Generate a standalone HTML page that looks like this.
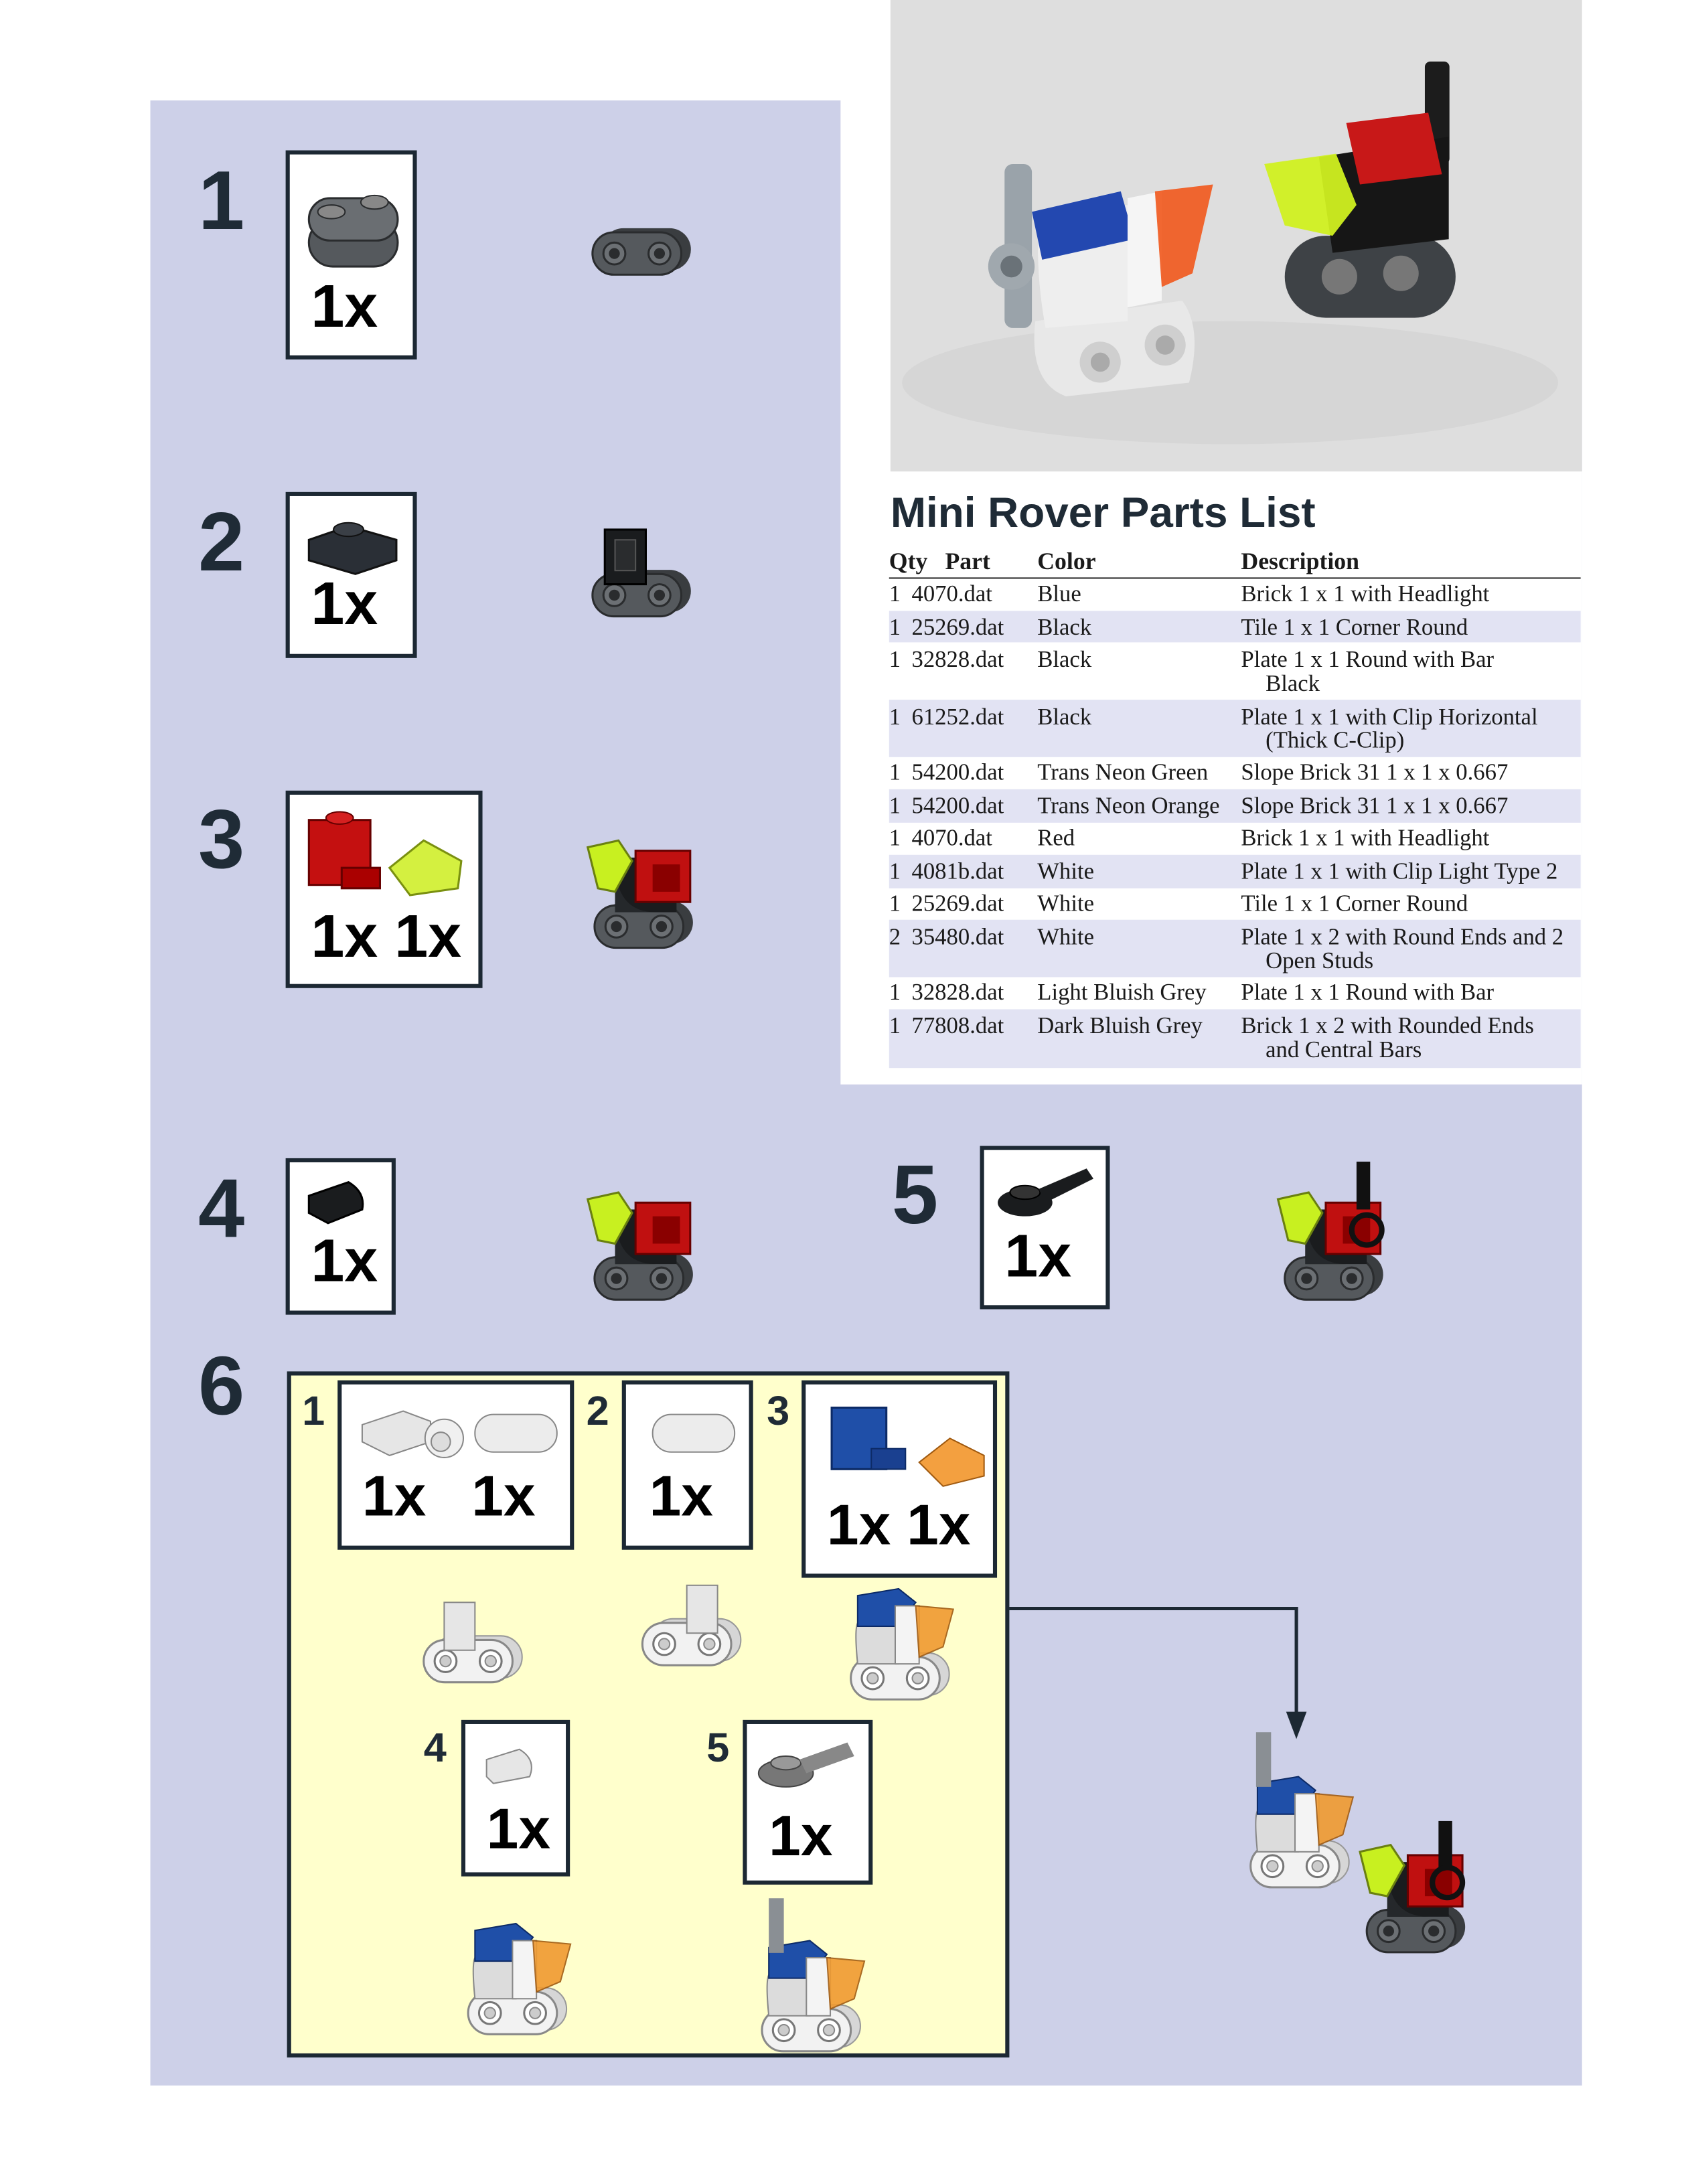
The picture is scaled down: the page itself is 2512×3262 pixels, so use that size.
<!DOCTYPE html>
<html><head><meta charset="utf-8">
<style>
html,body{margin:0;padding:0;background:#fff;}
svg{display:block;}
.num{font-family:"Liberation Sans",sans-serif;font-weight:bold;fill:#1f2b36;}
.qty{font-family:"Liberation Sans",sans-serif;font-weight:bold;fill:#000;}
.t{font-family:"Liberation Serif",serif;font-size:34px;fill:#1a1a1a;}
.h{font-family:"Liberation Serif",serif;font-size:35px;font-weight:bold;fill:#1a1a1a;}
</style></head><body>
<svg width="2512" height="3262" viewBox="0 0 2512 3262" xmlns="http://www.w3.org/2000/svg">
<defs>
<g id="trackD">
 <rect x="14" y="-6" width="130" height="62" rx="31" fill="#3a3d40"/>
 <rect x="0" y="0" width="130" height="62" rx="31" fill="#55595d" stroke="#2a2c2e" stroke-width="3"/>
 <circle cx="32" cy="31" r="16" fill="#6c7074" stroke="#2a2c2e" stroke-width="3"/><circle cx="32" cy="31" r="8" fill="#2a2c2e"/>
 <circle cx="98" cy="31" r="16" fill="#6c7074" stroke="#2a2c2e" stroke-width="3"/><circle cx="98" cy="31" r="8" fill="#2a2c2e"/>
</g>
<g id="trackW">
 <rect x="14" y="-6" width="130" height="62" rx="31" fill="#d6d6d6" stroke="#999" stroke-width="2"/>
 <rect x="0" y="0" width="130" height="62" rx="31" fill="#f2f2f2" stroke="#888" stroke-width="3"/>
 <circle cx="32" cy="31" r="16" fill="#fff" stroke="#777" stroke-width="3"/><circle cx="32" cy="31" r="8" fill="#ccc" stroke="#888" stroke-width="2"/>
 <circle cx="98" cy="31" r="16" fill="#fff" stroke="#777" stroke-width="3"/><circle cx="98" cy="31" r="8" fill="#ccc" stroke="#888" stroke-width="2"/>
</g>
<g id="roverDark">
 <use href="#trackD" x="0" y="95"/>
 <rect x="30" y="25" width="90" height="80" fill="#1a1c1e"/>
 <path d="M30 30 Q30 105 90 105 L30 105Z" fill="#25282b"/>
 <rect x="60" y="15" width="80" height="75" fill="#c01010" stroke="#600" stroke-width="3"/>
 <rect x="85" y="35" width="40" height="40" fill="#8a0000"/>
 <path d="M-10 10 L35 0 L55 30 L30 75 L5 70Z" fill="#c8f020" stroke="#6a8010" stroke-width="3"/>
</g>
<g id="roverWhite">
 <use href="#trackW" x="0" y="100"/>
 <path d="M10 50 L70 50 L70 110 L10 110 Q5 60 10 50Z" fill="#dcdcdc" stroke="#888" stroke-width="2"/>
 <path d="M10 10 L70 0 L95 20 L70 55 L10 55Z" fill="#1f4fa8" stroke="#0c2a66" stroke-width="2"/>
 <rect x="65" y="25" width="35" height="85" fill="#f4f4f4" stroke="#888" stroke-width="2"/>
 <path d="M95 25 L150 30 L135 85 L100 100Z" fill="#f09a30" stroke="#a05a10" stroke-width="2" opacity="0.9"/>
</g>
</defs>
<g transform="scale(1.0206)">
<rect x="220" y="147" width="2095" height="2905" fill="#cdd0e8"/>
<rect x="1230" y="0" width="1085" height="1587" fill="#ffffff"/>
<rect x="1303" y="0" width="1012" height="690" fill="#dedede"/>
<ellipse cx="1800" cy="560" rx="480" ry="90" fill="#d6d6d6"/>
<rect x="1470" y="240" width="40" height="240" rx="12" fill="#9aa3aa"/>
<circle cx="1480" cy="390" r="34" fill="#a0a8ae"/><circle cx="1480" cy="390" r="16" fill="#6a7278"/>
<path d="M1515 470 L1730 440 Q1760 480 1740 560 L1560 580 Q1505 560 1515 470Z" fill="#e8e8e8"/>
<circle cx="1610" cy="530" r="30" fill="#cfcfcf"/><circle cx="1610" cy="530" r="14" fill="#aaa"/>
<circle cx="1705" cy="505" r="30" fill="#cfcfcf"/><circle cx="1705" cy="505" r="14" fill="#aaa"/>
<path d="M1520 320 L1650 300 L1650 470 L1530 480 Q1515 400 1520 320Z" fill="#eeeeee"/>
<path d="M1510 310 L1640 280 L1660 350 L1525 380Z" fill="#2348b0"/>
<path d="M1650 290 L1700 280 L1700 440 L1650 450Z" fill="#f5f5f5"/>
<path d="M1690 280 L1775 270 L1745 400 L1700 420Z" fill="#f05a20" opacity="0.92"/>
<rect x="2085" y="90" width="36" height="150" rx="8" fill="#1c1c1c"/>
<rect x="1880" y="345" width="250" height="120" rx="60" fill="#3e4246"/>
<circle cx="1960" cy="405" r="26" fill="#777"/><circle cx="2050" cy="400" r="26" fill="#777"/>
<path d="M1930 230 L2120 200 L2120 350 L1950 370Z" fill="#161616"/>
<path d="M1970 180 L2090 165 L2110 255 L1990 270Z" fill="#c81818"/>
<path d="M1850 240 L1955 225 L1985 300 L1950 345 L1880 330Z" fill="#d0f020" opacity="0.95"/>

<text x="1303" y="771" font-family="Liberation Sans,sans-serif" font-weight="bold" font-size="62" fill="#1f2b36" textLength="622" lengthAdjust="spacingAndGlyphs">Mini Rover Parts List</text>
<g fill="#e2e3f3">
<rect x="1301" y="894" width="1012" height="46"/>
<rect x="1301" y="1024" width="1012" height="84"/>
<rect x="1301" y="1155" width="1012" height="49"/>
<rect x="1301" y="1251" width="1012" height="49"/>
<rect x="1301" y="1346" width="1012" height="84"/>
<rect x="1301" y="1477" width="1012" height="86"/>
</g>
<line x1="1301" y1="846" x2="2313" y2="846" stroke="#333" stroke-width="2"/>
<text class="h" x="1301" y="833">Qty</text><text class="h" x="1383" y="833">Part</text><text class="h" x="1518" y="833">Color</text><text class="h" x="1816" y="833">Description</text>
<g class="t">
<text x="1301" y="880">1</text><text x="1334" y="880">4070.dat</text><text x="1518" y="880">Blue</text><text x="1816" y="880">Brick  1 x  1 with Headlight</text>
<text x="1301" y="929">1</text><text x="1334" y="929">25269.dat</text><text x="1518" y="929">Black</text><text x="1816" y="929">Tile  1 x  1 Corner Round</text>
<text x="1301" y="976">1</text><text x="1334" y="976">32828.dat</text><text x="1518" y="976">Black</text><text x="1816" y="976">Plate  1 x  1 Round with Bar</text><text x="1852" y="1011">Black</text>
<text x="1301" y="1060">1</text><text x="1334" y="1060">61252.dat</text><text x="1518" y="1060">Black</text><text x="1816" y="1060">Plate  1 x  1 with Clip Horizontal</text><text x="1852" y="1094">(Thick C-Clip)</text>
<text x="1301" y="1141">1</text><text x="1334" y="1141">54200.dat</text><text x="1518" y="1141">Trans Neon Green</text><text x="1816" y="1141">Slope Brick 31  1 x  1 x  0.667</text>
<text x="1301" y="1190">1</text><text x="1334" y="1190">54200.dat</text><text x="1518" y="1190">Trans Neon Orange</text><text x="1816" y="1190">Slope Brick 31  1 x  1 x  0.667</text>
<text x="1301" y="1237">1</text><text x="1334" y="1237">4070.dat</text><text x="1518" y="1237">Red</text><text x="1816" y="1237">Brick  1 x  1 with Headlight</text>
<text x="1301" y="1286">1</text><text x="1334" y="1286">4081b.dat</text><text x="1518" y="1286">White</text><text x="1816" y="1286">Plate  1 x  1 with Clip Light Type 2</text>
<text x="1301" y="1333">1</text><text x="1334" y="1333">25269.dat</text><text x="1518" y="1333">White</text><text x="1816" y="1333">Tile  1 x  1 Corner Round</text>
<text x="1301" y="1382">2</text><text x="1334" y="1382">35480.dat</text><text x="1518" y="1382">White</text><text x="1816" y="1382">Plate  1 x  2 with Round Ends and 2</text><text x="1852" y="1417">Open Studs</text>
<text x="1301" y="1463">1</text><text x="1334" y="1463">32828.dat</text><text x="1518" y="1463">Light Bluish Grey</text><text x="1816" y="1463">Plate  1 x  1 Round with Bar</text>
<text x="1301" y="1512">1</text><text x="1334" y="1512">77808.dat</text><text x="1518" y="1512">Dark Bluish Grey</text><text x="1816" y="1512">Brick  1 x  2 with Rounded Ends</text><text x="1852" y="1547">and Central Bars</text>
</g>

<g class="num" font-size="122">
<text x="290" y="335">1</text><text x="290" y="835">2</text><text x="290" y="1270">3</text>
<text x="290" y="1810">4</text><text x="1305" y="1790">5</text><text x="290" y="2070">6</text>
</g>

<g fill="#fff" stroke="#1c2833" stroke-width="6">
<rect x="421" y="223" width="186" height="300"/>
<rect x="421" y="723" width="186" height="237"/>
<rect x="421" y="1160" width="282" height="283"/>
<rect x="421" y="1698" width="155" height="223"/>
<rect x="1437" y="1680" width="184" height="233"/>
</g>
<g class="qty" font-size="88">
<text x="455" y="478">1x</text>
<text x="455" y="913">1x</text>
<text x="455" y="1400">1x 1x</text>
<text x="455" y="1875">1x</text>
<text x="1470" y="1868">1x</text>
</g>
<rect x="452" y="320" width="130" height="70" rx="35" fill="#55595d" stroke="#2a2c2e" stroke-width="3"/>
<rect x="452" y="290" width="130" height="62" rx="31" fill="#6a6e72" stroke="#2a2c2e" stroke-width="3"/>
<ellipse cx="485" cy="310" rx="20" ry="10" fill="#888" stroke="#2a2c2e" stroke-width="2"/>
<ellipse cx="548" cy="296" rx="20" ry="10" fill="#888" stroke="#2a2c2e" stroke-width="2"/>
<use href="#trackD" x="867" y="340"/>
<path d="M452 790 L510 770 L580 790 L580 820 L520 840 L452 820Z" fill="#2a2f36" stroke="#111" stroke-width="3"/>
<ellipse cx="510" cy="775" rx="22" ry="10" fill="#3a3f46" stroke="#111" stroke-width="2"/>
<use href="#trackD" x="867" y="840"/>
<rect x="885" y="775" width="60" height="80" fill="#1a1c1e" stroke="#000" stroke-width="3"/>
<rect x="900" y="790" width="30" height="45" fill="#2a2c2e" stroke="#555" stroke-width="2"/>
<rect x="452" y="1200" width="90" height="95" fill="#c41010" stroke="#600" stroke-width="3"/>
<rect x="500" y="1270" width="56" height="30" fill="#a00" stroke="#600" stroke-width="3"/>
<ellipse cx="497" cy="1197" rx="20" ry="9" fill="#d52020" stroke="#600" stroke-width="2"/>
<path d="M570 1270 L620 1230 L675 1260 L670 1300 L600 1310Z" fill="#d4f040" stroke="#7a9010" stroke-width="3"/>
<use href="#roverDark" x="870" y="1230"/>
<path d="M452 1750 L510 1730 Q535 1745 530 1770 L480 1790 L452 1775Z" fill="#1a1c1e" stroke="#000" stroke-width="3"/>
<use href="#roverDark" x="870" y="1745"/>
<ellipse cx="1500" cy="1760" rx="40" ry="20" fill="#1a1c1e"/>
<ellipse cx="1500" cy="1745" rx="22" ry="10" fill="#333" stroke="#000" stroke-width="2"/>
<path d="M1520 1740 L1590 1710 L1600 1725 L1530 1760Z" fill="#1a1c1e"/>
<use href="#roverDark" x="1880" y="1745"/>
<rect x="1985" y="1700" width="20" height="70" fill="#111"/>
<circle cx="2000" cy="1800" r="22" fill="none" stroke="#111" stroke-width="8"/>

<rect x="423" y="2010" width="1051" height="998" fill="#ffffcc" stroke="#1c2833" stroke-width="6"/>
<g class="num" font-size="60">
<text x="442" y="2085">1</text><text x="858" y="2085">2</text><text x="1122" y="2085">3</text>
<text x="620" y="2578">4</text><text x="1034" y="2578">5</text>
</g>
<g fill="#fff" stroke="#1c2833" stroke-width="6">
<rect x="497" y="2023" width="340" height="242"/>
<rect x="913" y="2023" width="186" height="242"/>
<rect x="1176" y="2023" width="280" height="283"/>
<rect x="678" y="2520" width="153" height="223"/>
<rect x="1090" y="2520" width="184" height="235"/>
</g>
<g class="qty" font-size="84">
<text x="530" y="2218">1x</text><text x="690" y="2218">1x</text>
<text x="950" y="2218">1x</text>
<text x="1210" y="2260">1x 1x</text>
<text x="712" y="2705">1x</text>
<text x="1125" y="2715">1x</text>
</g>
<path d="M530 2085 L590 2065 L630 2080 L630 2110 L570 2130 L530 2110Z" fill="#e6e6e6" stroke="#888" stroke-width="2"/>
<circle cx="650" cy="2105" r="28" fill="#f0f0f0" stroke="#888" stroke-width="2"/><circle cx="645" cy="2110" r="14" fill="#ddd" stroke="#888" stroke-width="2"/>
<rect x="695" y="2070" width="120" height="55" rx="27" fill="#ececec" stroke="#888" stroke-width="2"/>
<rect x="955" y="2070" width="120" height="55" rx="27" fill="#ececec" stroke="#888" stroke-width="2"/>
<rect x="1217" y="2060" width="80" height="90" fill="#1f4fa8" stroke="#0c2a66" stroke-width="3"/>
<rect x="1275" y="2120" width="50" height="30" fill="#1a4090" stroke="#0c2a66" stroke-width="2"/>
<path d="M1345 2140 L1390 2105 L1440 2130 L1440 2160 L1380 2175Z" fill="#f3a040" stroke="#a05a10" stroke-width="2"/>
<path d="M712 2575 L760 2560 Q785 2575 775 2600 L722 2610 L712 2600Z" fill="#e6e6e6" stroke="#888" stroke-width="2"/>
<ellipse cx="1150" cy="2595" rx="40" ry="20" fill="#777" stroke="#444" stroke-width="2"/>
<ellipse cx="1150" cy="2580" rx="22" ry="10" fill="#999" stroke="#444" stroke-width="2"/>
<path d="M1170 2575 L1240 2550 L1250 2570 L1180 2595Z" fill="#888"/>
<use href="#trackW" x="620" y="2400"/>
<rect x="650" y="2345" width="45" height="70" fill="#e6e6e6" stroke="#888" stroke-width="2"/>
<use href="#trackW" x="940" y="2375"/>
<rect x="1005" y="2320" width="45" height="70" fill="#e6e6e6" stroke="#888" stroke-width="2"/>
<use href="#roverWhite" x="1245" y="2325"/>
<use href="#roverWhite" x="685" y="2815"/>
<use href="#roverWhite" x="1115" y="2840"/>
<rect x="1125" y="2778" width="22" height="80" fill="#8a8f94"/>
<polyline points="1477,2354 1897,2354 1897,2515" fill="none" stroke="#1c2833" stroke-width="5"/>
<path d="M1882 2505 L1897 2545 L1912 2505Z" fill="#1c2833"/>
<use href="#roverWhite" x="1830" y="2600"/>
<rect x="1838" y="2535" width="22" height="80" fill="#8a8f94"/>
<use href="#roverDark" x="2000" y="2700"/>
<rect x="2105" y="2665" width="20" height="70" fill="#111"/>
<circle cx="2118" cy="2755" r="22" fill="none" stroke="#111" stroke-width="8"/>
</g>
</svg>
</body></html>
